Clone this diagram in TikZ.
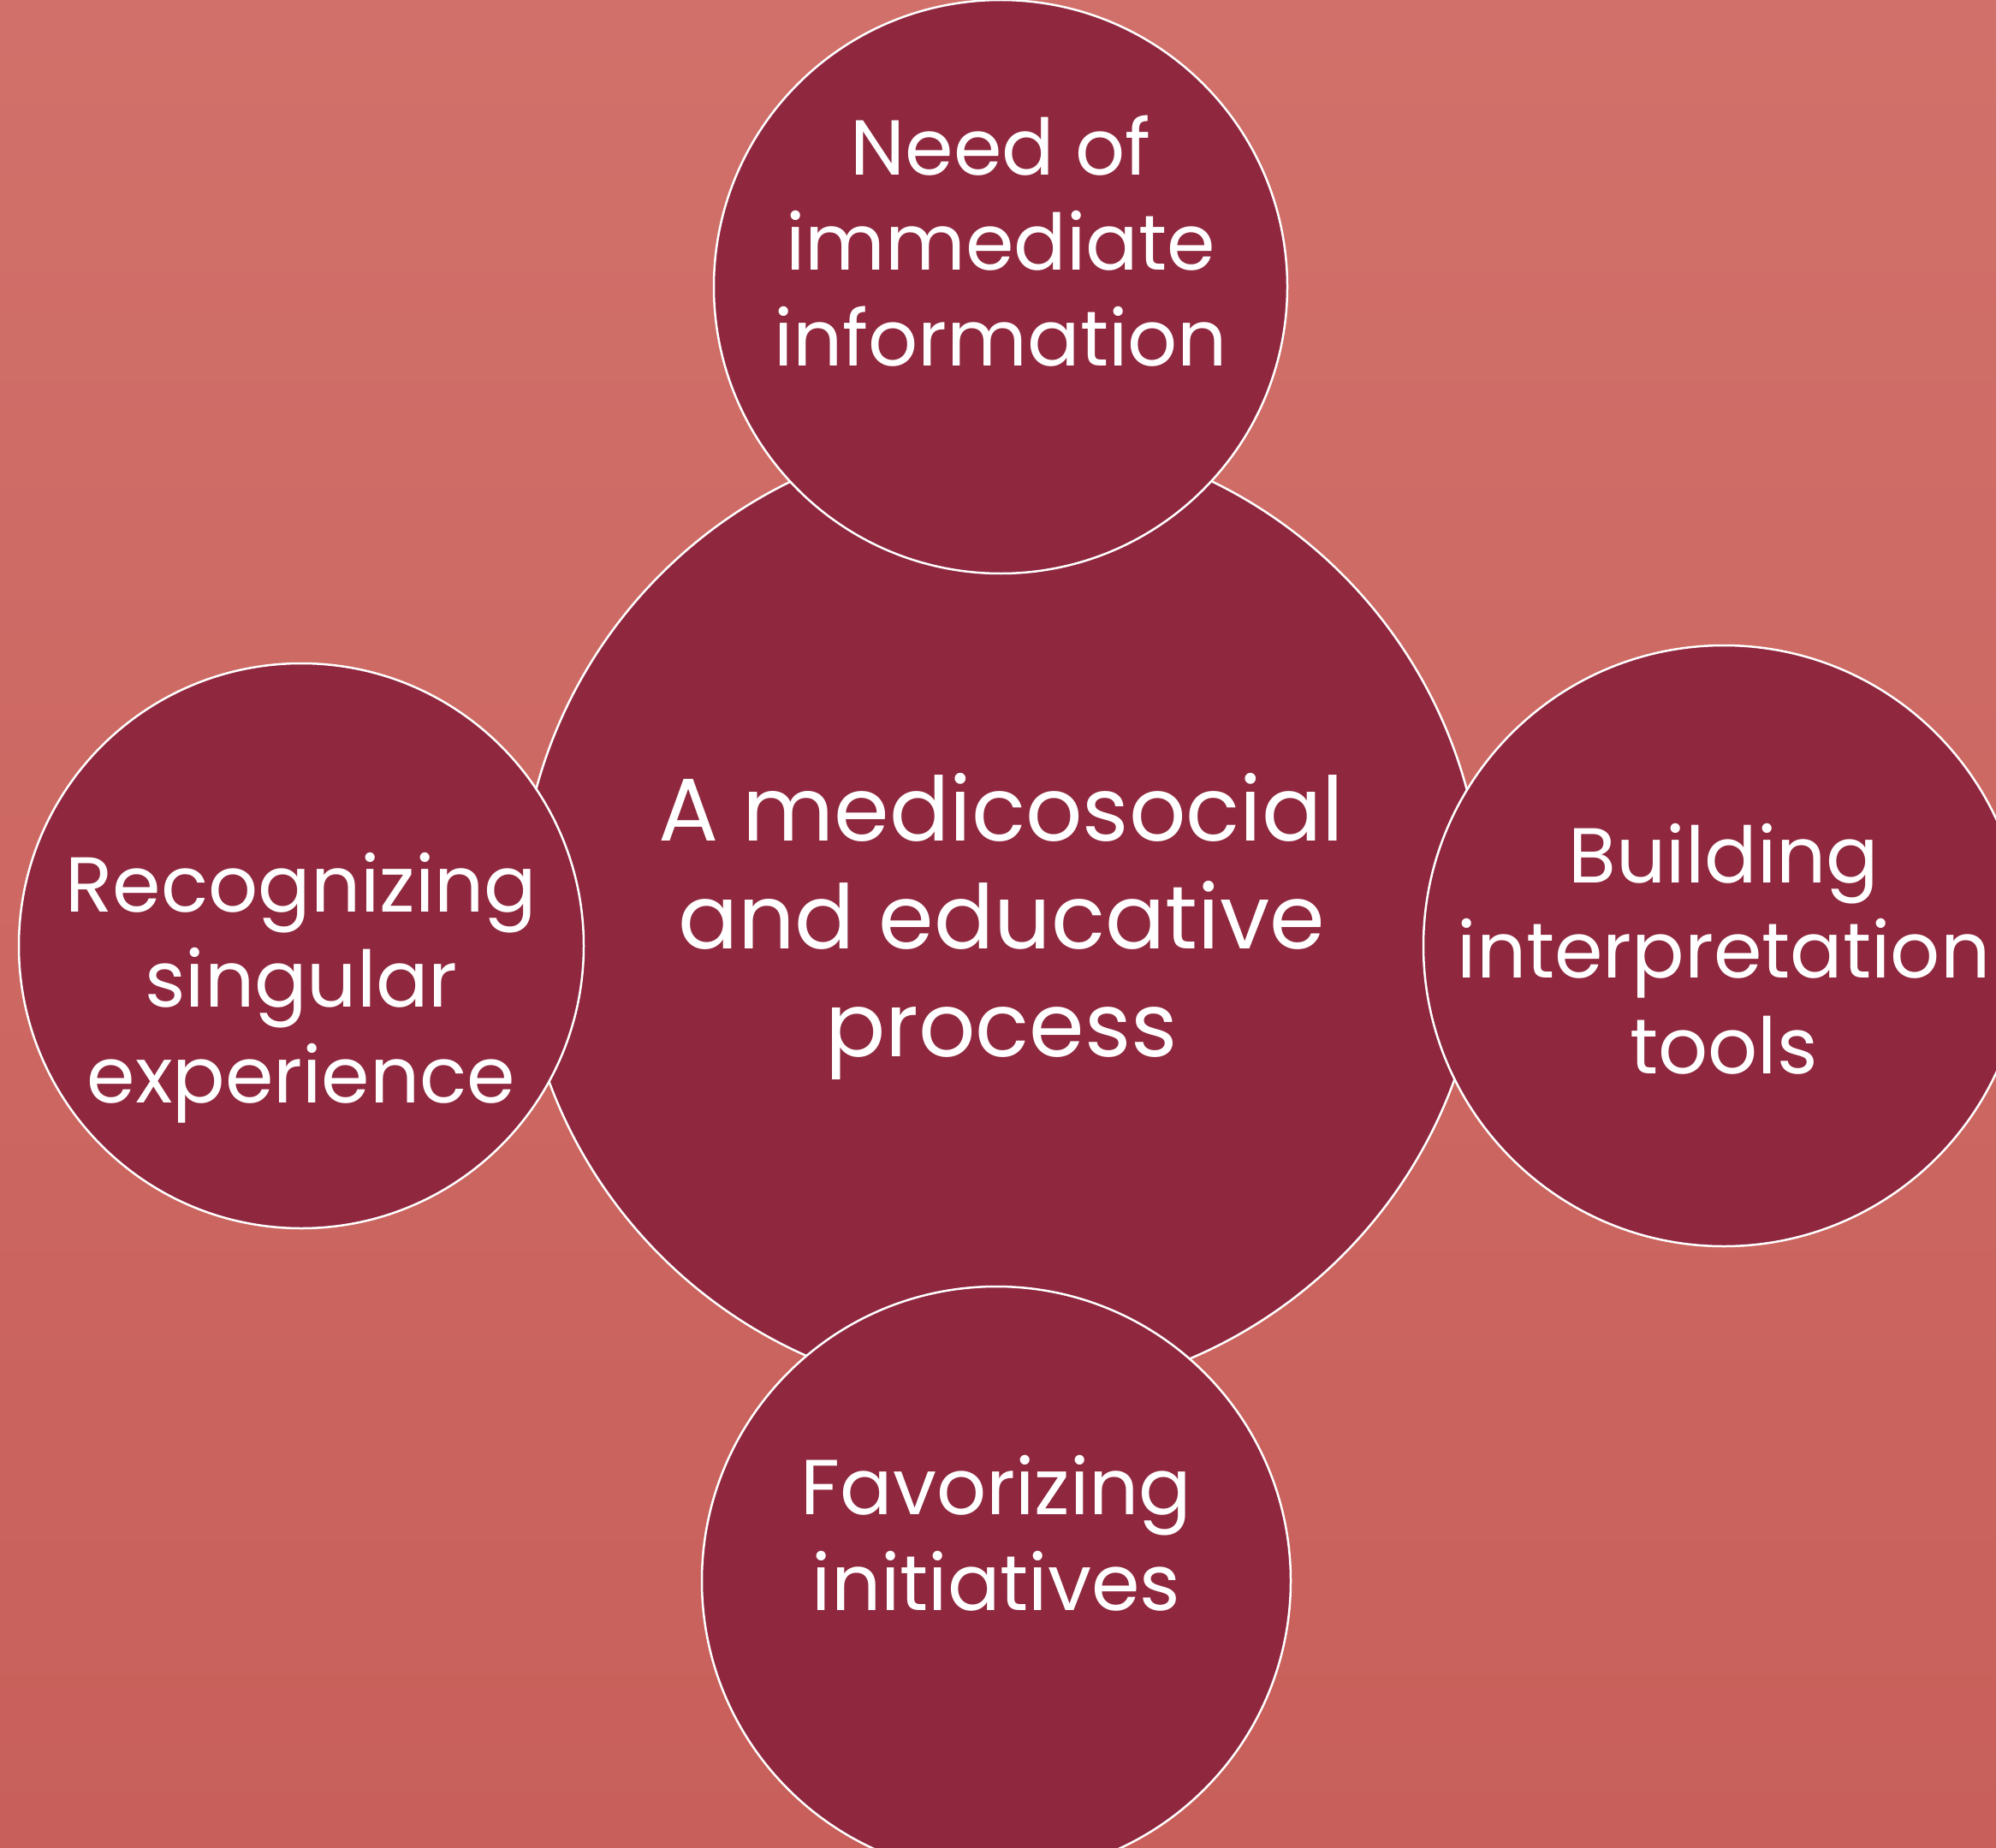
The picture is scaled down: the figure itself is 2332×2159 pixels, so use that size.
\documentclass[tikz,border=0pt]{standalone}
\usepackage{fontspec}
\setmainfont{Poppins}
\definecolor{bgtop}{HTML}{D1706A}
\definecolor{bgbot}{HTML}{C85F5A}
\definecolor{bubblefill}{HTML}{8F283F}
\begin{document}
\begin{tikzpicture}[x=1pt,y=-1pt,
  bubble/.style={circle, draw=white, line width=2.5pt, fill=bubblefill, inner sep=0pt},
  lbl/.style={text=white, align=center, inner sep=0pt, anchor=base},
  smallfont/.style={font=\fontsize{91}{111.5}\selectfont},
  bigfont/.style={font=\fontsize{104}{126}\selectfont}]
\useasboundingbox (0,0) rectangle (2332,2159);
\shade[top color=bgtop, bottom color=bgbot] (0,0) rectangle (2332,2159);
\clip (0,0) rectangle (2332,2159);
\node[bubble, minimum size=1126pt] (center) at (1170,1069) {};
\node[bubble, minimum size=670pt] (top) at (1169,335) {};
\node[bubble, minimum size=660pt] (left) at (352,1105) {};
\node[bubble, minimum size=702pt] (right) at (2014,1105) {};
\node[bubble, minimum size=688pt] (bottom) at (1164,1847) {};
\node[lbl, bigfont] (centertext) at (1170,1234) {A medicosocial\\and educative\\process};
\node[lbl, smallfont] (toptext) at (1169,427) {Need of\\immediate\\information};
\node[lbl, smallfont] (lefttext) at (352,1288) {Recognizing\\singular\\experience};
\node[lbl, smallfont] (righttext) at (2014,1254) {Building\\interpretation\\tools};
\node[lbl, smallfont] (bottomtext) at (1164,1881) {Favorizing\\initiatives};
\end{tikzpicture}
\end{document}
